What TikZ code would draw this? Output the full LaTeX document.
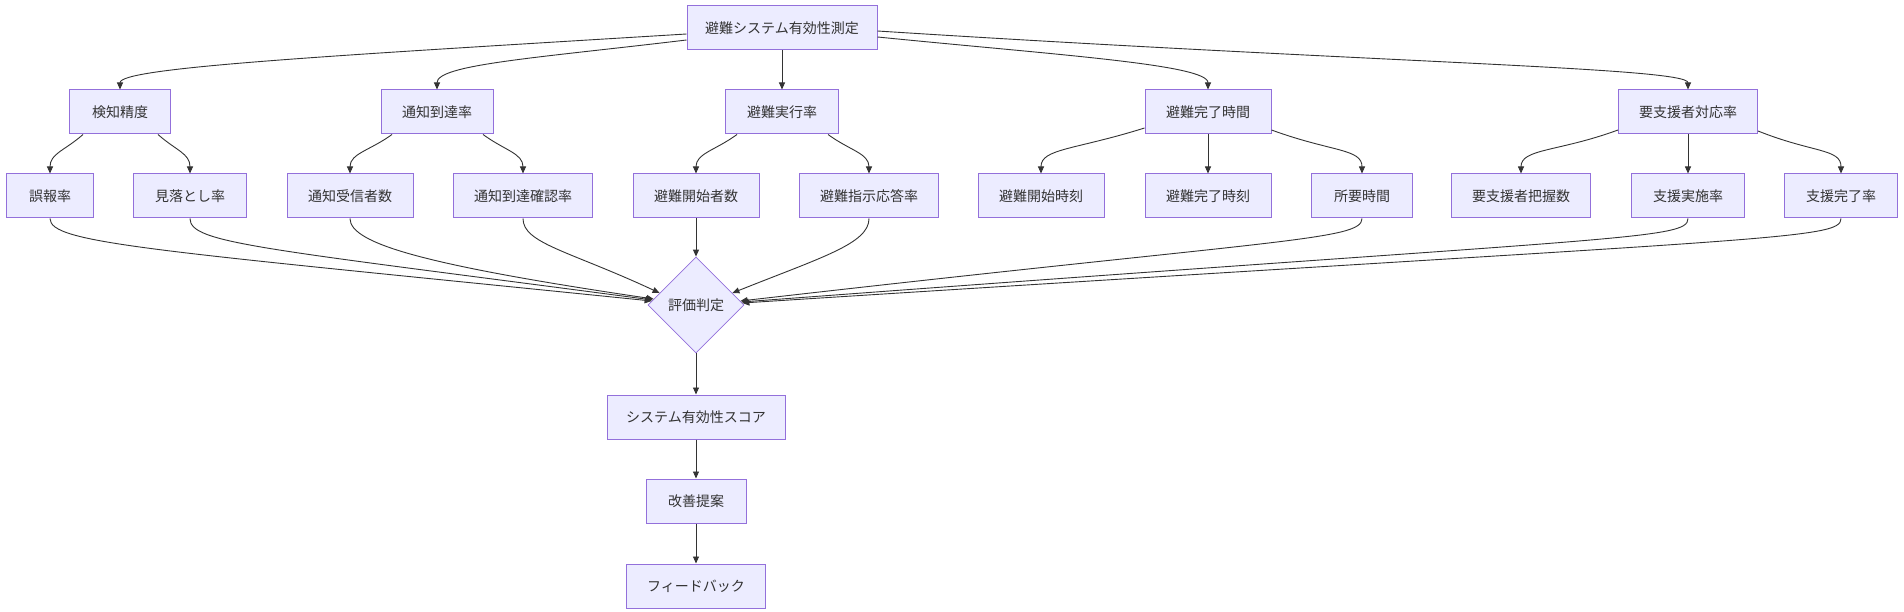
\documentclass[tikz,border=0pt]{standalone}
\usepackage{fontspec}
\newfontfamily\cjk{Noto Sans CJK JP}
\usetikzlibrary{shapes.geometric,arrows.meta,calc}
\definecolor{boxfill}{HTML}{ECECFF}
\definecolor{boxline}{HTML}{9370DB}
\definecolor{ink}{HTML}{333333}
\tikzset{
  box/.style={draw=boxline,fill=boxfill,line width=1pt,minimum height=44pt,inner sep=0pt,
    text=ink,font=\cjk\fontsize{14}{16}\selectfont},
  dia/.style={diamond,draw=boxline,fill=boxfill,line width=0.8pt,minimum width=96pt,minimum height=96pt,
    inner sep=0pt,aspect=1,text=ink,font=\cjk\fontsize{14}{16}\selectfont},
  edge/.style={draw=ink,line width=0.9pt,-{Triangle[length=7pt,width=6pt]}}
}
\begin{document}
\begin{tikzpicture}[x=1pt,y=-1pt]
\useasboundingbox[fill=white] (0,0) rectangle (1904,612);
% nodes
\node[box,minimum width=190pt] (top) at (782,28) {避難システム有効性測定};
\node[box,minimum width=101pt] (a1) at (120,112) {検知精度};
\node[box,minimum width=112pt] (a2) at (437,112) {通知到達率};
\node[box,minimum width=113pt] (a3) at (782,112) {避難実行率};
\node[box,minimum width=126pt] (a4) at (1208,112) {避難完了時間};
\node[box,minimum width=139pt] (a5) at (1688,112) {要支援者対応率};
\node[box,minimum width=87pt] (b1) at (50,196) {誤報率};
\node[box,minimum width=113pt] (b2) at (190,196) {見落とし率};
\node[box,minimum width=126pt] (b3) at (350,196) {通知受信者数};
\node[box,minimum width=139pt] (b4) at (523,196) {通知到達確認率};
\node[box,minimum width=126pt] (b5) at (696,196) {避難開始者数};
\node[box,minimum width=139pt] (b6) at (869,196) {避難指示応答率};
\node[box,minimum width=126pt] (b7) at (1041,196) {避難開始時刻};
\node[box,minimum width=126pt] (b8) at (1208,196) {避難完了時刻};
\node[box,minimum width=101pt] (b9) at (1362,196) {所要時間};
\node[box,minimum width=139pt] (b10) at (1521,196) {要支援者把握数};
\node[box,minimum width=113pt] (b11) at (1688,196) {支援実施率};
\node[box,minimum width=113pt] (b12) at (1841,196) {支援完了率};
\node[dia] (d) at (696,305) {評価判定};
\node[box,minimum width=178pt] (s) at (696,417) {システム有効性スコア};
\node[box,minimum width=100pt] (k) at (696,501) {改善提案};
\node[box,minimum width=139pt] (f) at (696,586) {フィードバック};
% top -> level 2
\draw[edge] ($(top.west)+(0,6)$) .. controls +(-360,22) and +(0,-22) .. (a1.north);
\draw[edge] ($(top.west)+(0,12)$) .. controls +(-150,18) and +(0,-25) .. (a2.north);
\draw[edge] (top.south) -- (a3.north);
\draw[edge] ($(top.east)+(0,9)$) .. controls +(180,18) and +(0,-25) .. (a4.north);
\draw[edge] ($(top.east)+(0,3)$) .. controls +(500,32) and +(0,-22) .. (a5.north);
% level 2 -> level 3
\draw[edge] ($(a1.south)+(-37,0)$) .. controls +(-18,16) and +(0,-20) .. (b1.north);
\draw[edge] ($(a1.south)+(38,0)$) .. controls +(18,16) and +(0,-20) .. (b2.north);
\draw[edge] ($(a2.south)+(-45,0)$) .. controls +(-22,16) and +(0,-20) .. (b3.north);
\draw[edge] ($(a2.south)+(46,0)$) .. controls +(22,16) and +(0,-20) .. (b4.north);
\draw[edge] ($(a3.south)+(-45,0)$) .. controls +(-22,16) and +(0,-20) .. (b5.north);
\draw[edge] ($(a3.south)+(46,0)$) .. controls +(22,16) and +(0,-20) .. (b6.north);
\draw[edge] ($(a4.west)+(0,16)$) .. controls +(-70,22) and +(0,-25) .. (b7.north);
\draw[edge] (a4.south) -- (b8.north);
\draw[edge] ($(a4.east)+(0,18)$) .. controls +(60,22) and +(0,-25) .. (b9.north);
\draw[edge] ($(a5.west)+(0,18)$) .. controls +(-60,22) and +(0,-25) .. (b10.north);
\draw[edge] (a5.south) -- (b11.north);
\draw[edge] ($(a5.east)+(0,19)$) .. controls +(55,22) and +(0,-25) .. (b12.north);
% level 3 -> decision
\draw[edge] (b1.south) .. controls +(0,25) and +(-502,-51) .. ($(d.west)+(4,-4)$);
\draw[edge] (b2.south) .. controls +(0,25) and +(-393,-52) .. ($(d.west)+(5,-5)$);
\draw[edge] (b3.south) .. controls +(0,25) and +(-230,-34) .. ($(d.west)+(6,-6)$);
\draw[edge] (b4.south) .. controls +(0,25) and +(-90,-42) .. ($(d.west)+(12,-12)$);
\draw[edge] (b5.south) -- (d.north);
\draw[edge] (b6.south) .. controls +(0,25) and +(90,-36) .. ($(d.east)+(-12,-12)$);
\draw[edge] (b9.south) .. controls +(0,22) and +(540,-62) .. ($(d.east)+(-4,-4)$);
\draw[edge] (b11.south) .. controls +(0,22) and +(880,-66) .. ($(d.east)+(-3,-3)$);
\draw[edge] (b12.south) .. controls +(0,22) and +(1030,-66) .. ($(d.east)+(-2,-2)$);
% lower chain
\draw[edge] (d.south) -- (s.north);
\draw[edge] (s.south) -- (k.north);
\draw[edge] (k.south) -- (f.north);
\end{tikzpicture}
\end{document}
